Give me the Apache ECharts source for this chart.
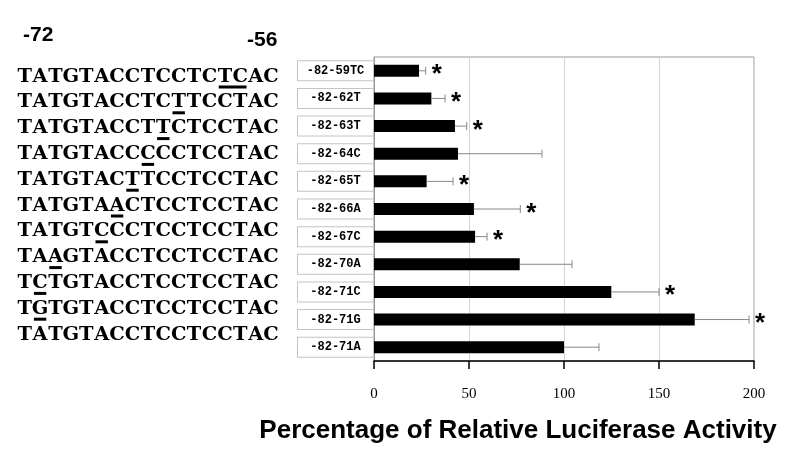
<!DOCTYPE html>
<html>
<head>
<meta charset="utf-8">
<script src="https://cdn.jsdelivr.net/npm/echarts@6/dist/echarts.min.js"></script>
<style>html,body{margin:0;padding:0;background:#fff}#c{width:800px;height:460px}</style>
</head>
<body>
<div id="c"></div>
<script>
var categories = ['-82-59TC','-82-62T','-82-63T','-82-64C','-82-65T','-82-66A','-82-67C','-82-70A','-82-71C','-82-71G','-82-71A'];
var values = [23.7, 30.2, 42.6, 44.2, 27.7, 52.6, 53.2, 76.7, 124.9, 168.8, 100];
var errorHigh = [27.2, 37.4, 48.8, 88.4, 41.6, 77.0, 59.5, 104.2, 150.0, 197.4, 118.4];
var significant = [1, 1, 1, 0, 1, 1, 1, 0, 1, 1, 0];
var sequences = [
  'TATGTACCTCCTCTCAC',
  'TATGTACCTCTTCCTAC',
  'TATGTACCTTCTCCTAC',
  'TATGTACCCCCTCCTAC',
  'TATGTACTTCCTCCTAC',
  'TATGTAACTCCTCCTAC',
  'TATGTCCCTCCTCCTAC',
  'TAAGTACCTCCTCCTAC',
  'TCTGTACCTCCTCCTAC',
  'TGTGTACCTCCTCCTAC',
  'TATGTACCTCCTCCTAC'
];
var mutStart = [13, 10, 9, 8, 7, 6, 5, 2, 1, 1, -1];
var mutLen = [2, 1, 1, 1, 1, 1, 1, 1, 1, 1, 0];
var positionLabels = ['-72', '-56'];
var xTicks = [0, 50, 100, 150, 200];
var xTitle = 'Percentage of Relative Luciferase Activity';

var chart = echarts.init(document.getElementById('c'));

// layout for the sequence column (monospaced cells, slab-serif glyphs)
var seqX = 17, seqY0 = 77, seqDY = 25.8, charW = 15.4;
var seqFont = 'bold 18px "DejaVu Serif"';
var graphics = [];
sequences.forEach(function (s, i) {
  var cy = seqY0 + seqDY * i;
  var kids = [];
  for (var k = 0; k < s.length; k++) {
    kids.push({
      type: 'text', x: seqX + (k + 0.5) * charW, y: cy, scaleX: 1.08,
      style: { text: s.charAt(k), font: seqFont, fill: '#000', textAlign: 'center', textVerticalAlign: 'middle' }
    });
  }
  graphics.push({ type: 'group', children: kids });
  if (mutStart[i] >= 0) {
    graphics.push({
      type: 'rect',
      shape: { x: seqX + mutStart[i] * charW + 1.5, y: cy + 8.5, width: mutLen[i] * charW - 3, height: 3 },
      style: { fill: '#000' }
    });
  }
});
graphics.push({ type: 'text', x: 23, y: 35, style: { text: positionLabels[0], font: 'bold 21px "Liberation Sans"', fill: '#000', textVerticalAlign: 'middle' } });
graphics.push({ type: 'text', x: 247, y: 40, style: { text: positionLabels[1], font: 'bold 21px "Liberation Sans"', fill: '#000', textVerticalAlign: 'middle' } });
graphics.push({ type: 'text', x: 518, y: 431, style: { text: xTitle, font: 'bold 26px "Liberation Sans"', fill: '#000', textAlign: 'center', textVerticalAlign: 'middle' } });

var customData = values.map(function (v, i) { return [v, errorHigh[i], i, significant[i]]; });

chart.setOption({
  animation: false,
  backgroundColor: '#fff',
  grid: { left: 374, right: 46, top: 57, bottom: 99, show: true, borderColor: '#999', borderWidth: 1 },
  xAxis: {
    type: 'value', min: xTicks[0], max: xTicks[xTicks.length - 1], interval: 50,
    axisLine: { show: true, lineStyle: { color: '#000', width: 1.5 } },
    axisTick: { show: true, length: 8, lineStyle: { color: '#000', width: 1.5 } },
    axisLabel: { margin: 26, color: '#000', fontFamily: 'Liberation Serif', fontSize: 15 },
    splitLine: { show: true, lineStyle: { color: '#d4d4d4', width: 1 } }
  },
  yAxis: {
    type: 'category', data: categories, inverse: true,
    axisLine: { show: true, lineStyle: { color: '#999' } },
    axisTick: { show: false },
    axisLabel: {
      margin: 1,
      formatter: function (v) { return '{b|' + v + '}'; },
      rich: {
        b: {
          width: 75, height: 19, align: 'center', verticalAlign: 'middle',
          fontFamily: 'Liberation Mono', fontWeight: 'bold', fontSize: 12, color: '#000',
          borderColor: '#c4c4c4', borderWidth: 1, backgroundColor: '#fff'
        }
      }
    }
  },
  graphic: graphics,
  series: [
    {
      type: 'bar', data: values, barWidth: 12,
      itemStyle: { color: '#000' }, z: 3
    },
    {
      type: 'custom', data: customData, z: 4,
      encode: { x: [0, 1], y: 2 },
      renderItem: function (params, api) {
        var idx = api.value(2);
        var p0 = api.coord([api.value(0), idx]);
        var p1 = api.coord([api.value(1), idx]);
        var children = [
          { type: 'line', shape: { x1: p0[0], y1: p0[1], x2: p1[0], y2: p1[1] }, style: { stroke: '#888', lineWidth: 1 } },
          { type: 'line', shape: { x1: p1[0], y1: p1[1] - 4, x2: p1[0], y2: p1[1] + 4 }, style: { stroke: '#888', lineWidth: 1 } }
        ];
        if (api.value(3)) {
          children.push({
            type: 'text', x: p1[0] + 11, y: p1[1] + 6,
            style: { text: '*', font: 'bold 26px "Liberation Mono"', fill: '#000', textAlign: 'center', textVerticalAlign: 'middle' }
          });
        }
        return { type: 'group', children: children };
      }
    }
  ]
});
</script>
</body>
</html>
